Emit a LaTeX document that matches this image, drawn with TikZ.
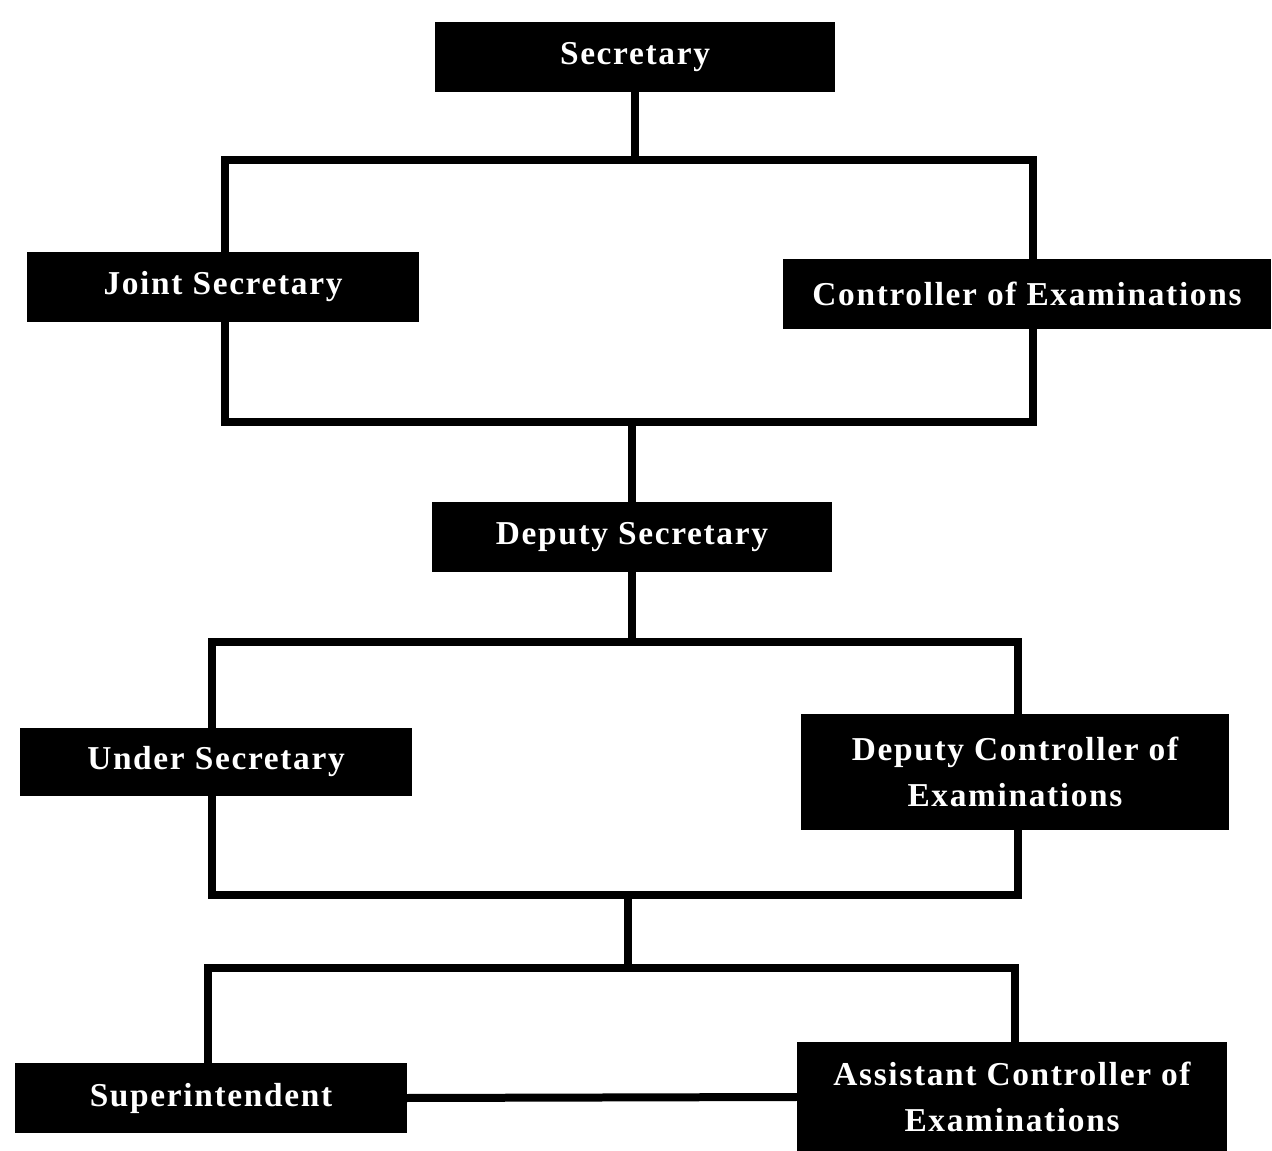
\documentclass[tikz,border=0pt]{standalone}
\usepackage{fontspec}
\setmainfont{Liberation Serif}[LetterSpace=5]
\usetikzlibrary{backgrounds}
\begin{document}
\begin{tikzpicture}[x=0.02cm,y=-0.02cm,
  orgbox/.style={fill=black,text=white,inner sep=0pt,align=center,
    font=\bfseries\fontsize{19}{26}\selectfont},
  link/.style={line width=0.16cm,line cap=rect,black}]
\useasboundingbox (0,0) rectangle (1272,1151);
\node[orgbox,minimum width=8cm,minimum height=1.4cm] (sec) at (635,57) {Secretary};
\node[orgbox,minimum width=7.86cm,minimum height=1.4cm] (joint) at (223,287) {Joint Secretary};
\node[orgbox,minimum width=9.78cm,minimum height=1.4cm] (coe) at (1027,294) {Controller of Examinations};
\node[orgbox,minimum width=8.02cm,minimum height=1.4cm] (dsec) at (632,537) {Deputy Secretary};
\node[orgbox,minimum width=7.84cm,minimum height=1.36cm] (usec) at (216,762) {Under Secretary};
\node[orgbox,minimum width=8.58cm,minimum height=2.34cm] (dcoe) at (1015,772) {Deputy Controller of\\Examinations};
\node[orgbox,minimum width=7.86cm,minimum height=1.4cm] (supt) at (211,1098) {Superintendent};
\node[orgbox,minimum width=8.62cm,minimum height=2.22cm] (acoe) at (1012,1097) {Assistant Controller of\\Examinations};
\coordinate (r1tl) at (225,160);
\coordinate (r1br) at (1033,422);
\coordinate (r2tl) at (212,642);
\coordinate (r2br) at (1018,895);
\coordinate (m2) at (628,895);
\coordinate (m3) at (628,968);
\coordinate (r3l) at (208,968);
\coordinate (r3r) at (1015,968);
\begin{pgfonlayer}{background}
\draw[link] (r1tl) rectangle (r1br);
\draw[link] (sec.south) -- (sec.south |- r1tl);
\draw[link] (dsec.north) -- (dsec.north |- r1br);
\draw[link] (r2tl) rectangle (r2br);
\draw[link] (dsec.south) -- (dsec.south |- r2tl);
\draw[link] (m2) -- (m3);
\draw[link] (supt.north -| r3l) -- (r3l) -- (r3r) -- (acoe.north -| r3r);
\draw[link] (supt.east) -- (acoe.west);
\end{pgfonlayer}
\end{tikzpicture}
\end{document}
